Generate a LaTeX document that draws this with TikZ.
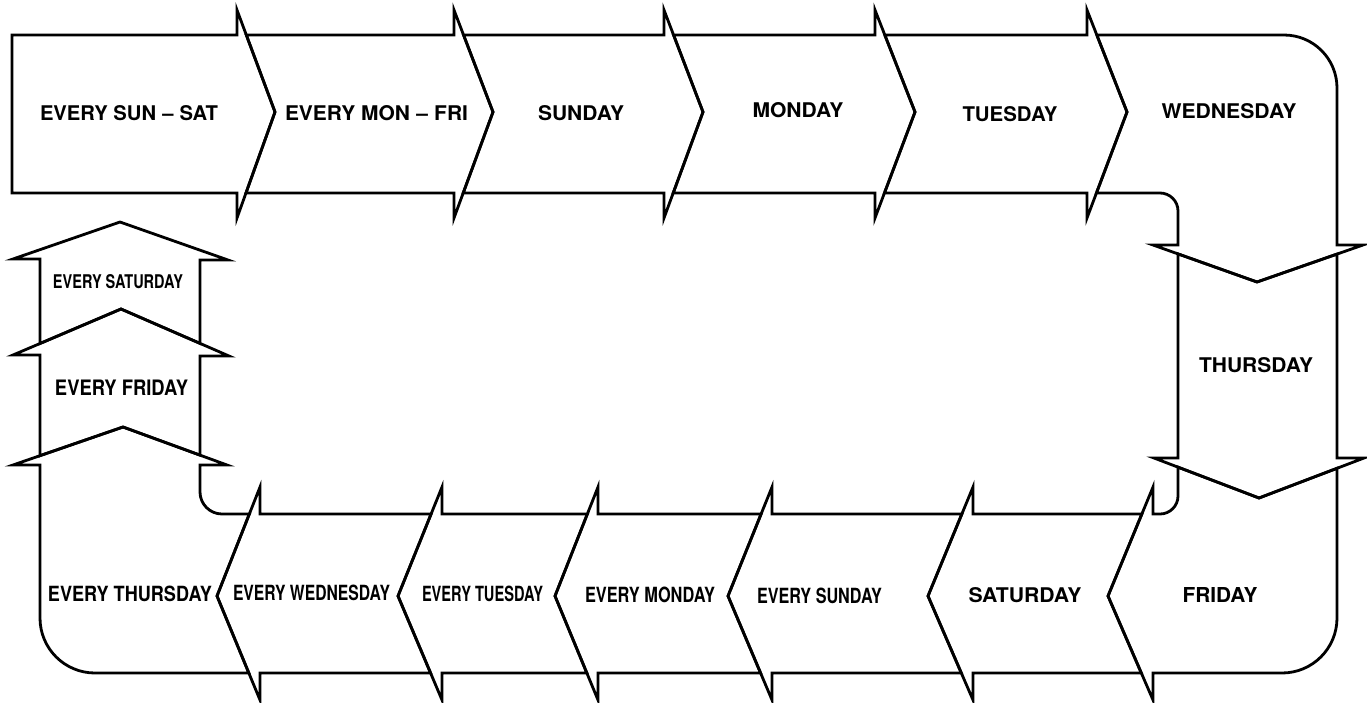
\documentclass[tikz,border=0pt]{standalone}
\usepackage{fontspec}
\setmainfont{TeX Gyre Heros}
\usepackage{graphicx}
\usetikzlibrary{calc}
\newcommand{\daylbl}[3]{\resizebox{#1pt}{#2pt}{\bfseries #3}}
\begin{document}
\begin{tikzpicture}[x=1pt,y=-1pt,
  cell/.style={draw=black, line width=2.8pt, line join=miter, miter limit=20},
  lbl/.style={inner sep=0pt, anchor=center}]
\useasboundingbox (0,0) rectangle (1367,702);
\fill[white] (0,0) rectangle (1367,702);
% top chevrons (pointing right)
\foreach \i/\s/\t in {1/237/275, 2/454/493, 3/664/703, 4/875/915, 5/1087/1127} {
  \coordinate (Ta\i) at (\s,10);
  \coordinate (Tt\i) at (\t,112);
  \coordinate (Tb\i) at (\s,218);
  \coordinate (Tc\i) at ($(Ta\i)!0.245!(Tt\i)$);
  \coordinate (Td\i) at ($(Tt\i)!0.764!(Tb\i)$);
}
% down chevrons
\coordinate (Da1) at (1153,245); \coordinate (Dt1) at (1257,282); \coordinate (De1) at (1363,245);
\coordinate (Dl1) at ($(Da1)!0.240!(Dt1)$); \coordinate (Dr1) at ($(De1)!0.245!(Dt1)$);
\coordinate (Da2) at (1154,458); \coordinate (Dt2) at (1259,498); \coordinate (De2) at (1364,458);
\coordinate (Dl2) at ($(Da2)!0.229!(Dt2)$); \coordinate (Dr2) at ($(De2)!0.257!(Dt2)$);
% bottom chevrons (pointing left)
\foreach \i/\s/\t in {1/260/217, 2/442/398, 3/598/555, 4/772/728, 5/973/928, 6/1153/1108} {
  \coordinate (Ba\i) at (\s,487);
  \coordinate (Bt\i) at (\t,596);
  \coordinate (Bb\i) at (\s,700);
  \coordinate (Bc\i) at ($(Ba\i)!0.248!(Bt\i)$);
  \coordinate (Bd\i) at ($(Bt\i)!0.740!(Bb\i)$);
}
% up chevrons
\coordinate (Ua1) at (13,259); \coordinate (Ut1) at (120,222); \coordinate (Ue1) at (228,260);
\coordinate (Ua2) at (13,355); \coordinate (Ut2) at (121,309); \coordinate (Ue2) at (229,356);
\coordinate (Ul2) at ($(Ua2)!0.25!(Ut2)$); \coordinate (Ur2) at ($(Ue2)!0.269!(Ut2)$);
\coordinate (Ua3) at (13,465); \coordinate (Ut3) at (123,427); \coordinate (Ue3) at (227,465);
\coordinate (Ul3) at ($(Ua3)!0.245!(Ut3)$); \coordinate (Ur3) at ($(Ue3)!0.26!(Ut3)$);

% top band cells
\draw[cell] (12,35) -- (237,35) -- (Ta1) -- (Tt1) -- (Tb1) -- (237,193) -- (12,193) -- cycle;
\foreach \p/\i/\s in {1/2/454, 2/3/664, 3/4/875, 4/5/1087} {
  \draw[cell] (Tc\p) -- (\s,35) -- (Ta\i) -- (Tt\i) -- (Tb\i) -- (\s,193) -- (Td\p) -- (Tt\p) -- cycle;
}
% Wednesday
\draw[cell] (Tc5) -- (1284,35) .. controls (1313.3,35) and (1337,58.7) .. (1337,88)
  -- (1337,245) -- (De1) -- (Dt1) -- (Da1) -- (1178,245) -- (1178,211)
  .. controls (1178,201.1) and (1169.9,193) .. (1160,193) -- (Td5) -- (Tt5) -- cycle;
% Thursday
\draw[cell] (Dl1) -- (Dt1) -- (Dr1) -- (1337,458) -- (De2) -- (Dt2) -- (Da2) -- (1178,458) -- cycle;
% Friday
\draw[cell] (Dl2) -- (Dt2) -- (Dr2) -- (1337,618) .. controls (1337,648.4) and (1312.4,673) .. (1282,673)
  -- (1153,673) -- (Bb6) -- (Bt6) -- (Ba6) -- (1153,514) -- (1160,514)
  .. controls (1169.9,514) and (1178,505.9) .. (1178,496) -- cycle;
% bottom band cells
\foreach \j/\i/\s in {6/5/973, 5/4/772, 4/3/598, 3/2/442, 2/1/260} {
  \draw[cell] (Bc\j) -- (\s,514) -- (Ba\i) -- (Bt\i) -- (Bb\i) -- (\s,673) -- (Bd\j) -- (Bt\j) -- cycle;
}
% Every Thursday
\draw[cell] (Bc1) -- (222,514) .. controls (209.9,514) and (200,504.1) .. (200,492)
  -- (200,465) -- (Ue3) -- (Ut3) -- (Ua3) -- (40,465) -- (40,618)
  .. controls (40,648.4) and (64.6,673) .. (95,673) -- (Bd1) -- (Bt1) -- cycle;
% Every Friday
\draw[cell] (Ut2) -- (Ue2) -- (200,356) -- (Ur3) -- (Ut3) -- (Ul3) -- (40,355) -- (Ua2) -- cycle;
% Every Saturday
\draw[cell] (Ut1) -- (Ue1) -- (200,260) -- (Ur2) -- (Ut2) -- (Ul2) -- (40,259) -- (Ua1) -- cycle;

% labels
\node[lbl] (sunsat) at (129,113) {\daylbl{178}{15}{EVERY SUN\hspace{0.3em}--\hspace{0.3em}SAT}};
\node[lbl] (monfri) at (376.5,113) {\daylbl{183}{15}{EVERY MON\hspace{0.3em}--\hspace{0.3em}FRI}};
\node[lbl] (sun) at (581,113) {\daylbl{86}{15}{SUNDAY}};
\node[lbl] (mon) at (798,110) {\daylbl{91}{15}{MONDAY}};
\node[lbl] (tue) at (1010,114) {\daylbl{95}{15}{TUESDAY}};
\node[lbl] (wed) at (1229,111) {\daylbl{135}{15}{WEDNESDAY}};
\node[lbl] (thu) at (1256,365) {\daylbl{114}{15}{THURSDAY}};
\node[lbl] (fri) at (1220,595) {\daylbl{75}{15}{FRIDAY}};
\node[lbl] (sat) at (1025,595) {\daylbl{113}{15}{SATURDAY}};
\node[lbl] (esun) at (819.5,596) {\daylbl{125}{15.5}{EVERY SUNDAY}};
\node[lbl] (emon) at (650,595) {\daylbl{130}{15.5}{EVERY MONDAY}};
\node[lbl] (etue) at (482.5,594) {\daylbl{121}{15.5}{EVERY TUESDAY}};
\node[lbl] (ewed) at (311.5,593) {\daylbl{157}{15.5}{EVERY WEDNESDAY}};
\node[lbl] (ethu) at (130,594) {\daylbl{164}{15.5}{EVERY THURSDAY}};
\node[lbl] (esat) at (118,282) {\daylbl{130}{14}{EVERY SATURDAY}};
\node[lbl] (efri) at (121.5,388) {\daylbl{133}{15.5}{EVERY FRIDAY}};
\end{tikzpicture}
\end{document}
